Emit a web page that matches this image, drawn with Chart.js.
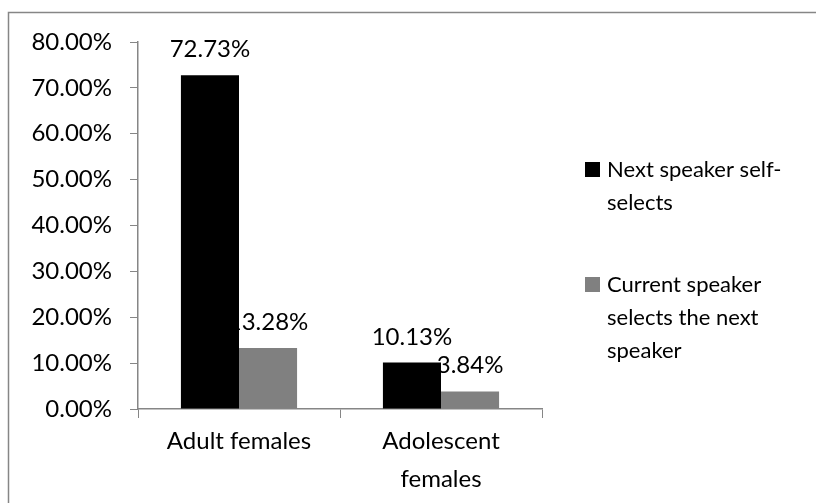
<!DOCTYPE html>
<html><head><meta charset="utf-8">
<script src="https://cdn.jsdelivr.net/npm/chart.js@4/dist/chart.umd.min.js"></script>
<style>html,body{margin:0;padding:0;background:#fff;}#wrap{width:816px;height:503px;position:relative;}</style>
</head><body><div id="wrap"><canvas id="c" width="816" height="503"></canvas></div>
<script>
const categories = ['Adult females', ['Adolescent', 'females']];
const seriesNames = ['Next speaker self-selects', 'Current speaker selects the next speaker'];
const legendLines = [['Next speaker self-', 'selects'], ['Current speaker', 'selects the next', 'speaker']];
const selfSelects = [72.73, 10.13];
const currentSelects = [13.28, 3.84];
const seriesColors = ['#000000', '#808080'];
const yTicks = [0, 10, 20, 30, 40, 50, 60, 70, 80];

const FONT = 'Lato, "Open Sans", sans-serif';
const FS = 24;
const LFS = 22;

const frame = {
  id: 'frame',
  beforeDraw(chart) {
    const ctx = chart.ctx;
    ctx.save();
    ctx.fillStyle = '#fff';
    ctx.fillRect(0, 0, chart.width, chart.height);
    ctx.strokeStyle = '#868686';
    ctx.lineWidth = 1.5;
    ctx.strokeRect(8.5, 12.5, 900, 600);
    ctx.restore();
  }
};

const valueLabels = {
  id: 'valueLabels',
  beforeDatasetsDraw(chart) {
    const ctx = chart.ctx;
    ctx.save();
    ctx.font = FS + 'px ' + FONT;
    ctx.fillStyle = '#000';
    ctx.textAlign = 'center';
    ctx.textBaseline = 'alphabetic';
    chart.data.datasets.forEach((ds, i) => {
      chart.getDatasetMeta(i).data.forEach((bar, j) => {
        ctx.fillText(ds.data[j].toFixed(2) + '%', bar.x, bar.y - 18);
      });
    });
    ctx.restore();
  }
};

const sideLegend = {
  id: 'sideLegend',
  afterDraw(chart) {
    const ctx = chart.ctx;
    ctx.save();
    ctx.font = LFS + 'px ' + FONT;
    ctx.textBaseline = 'alphabetic';
    ctx.textAlign = 'left';
    const starts = [177, 292];
    legendLines.forEach((lines, i) => {
      ctx.fillStyle = seriesColors[i];
      ctx.fillRect(585, starts[i] - 15, 15, 15);
      ctx.fillStyle = '#000';
      lines.forEach((t, k) => ctx.fillText(t, 607, starts[i] + k * 33));
    });
    ctx.restore();
  }
};

new Chart(document.getElementById('c'), {
  type: 'bar',
  data: {
    labels: categories,
    datasets: [
      { label: seriesNames[0], data: selfSelects, backgroundColor: seriesColors[0] },
      { label: seriesNames[1], data: currentSelects, backgroundColor: seriesColors[1] }
    ]
  },
  options: {
    responsive: false,
    animation: false,
    devicePixelRatio: 1,
    layout: { padding: { top: 42, right: 274, left: 0, bottom: 0 } },
    plugins: { legend: { display: false }, tooltip: { enabled: false } },
    datasets: { bar: { categoryPercentage: 0.575, barPercentage: 1.0 } },
    scales: {
      x: {
        grid: { drawOnChartArea: false, tickLength: 9, color: '#868686', offset: true },
        border: { color: '#868686', width: 1.5 },
        ticks: { color: '#000', font: { family: FONT, size: FS, lineHeight: 1.58 }, padding: 4, maxRotation: 0, autoSkip: false },
        afterFit(s) { s.height = 94; }
      },
      y: {
        min: 0, max: 80,
        afterBuildTicks(s) { s.ticks = yTicks.map(v => ({ value: v })); },
        grid: { drawOnChartArea: false, tickLength: 8, color: '#868686' },
        border: { color: '#868686', width: 1.5 },
        ticks: { color: '#000', font: { family: FONT, size: FS }, padding: 18, callback: v => v.toFixed(2) + '%' },
        afterFit(s) { s.width = 138; }
      }
    }
  },
  plugins: [frame, valueLabels, sideLegend]
});
</script></body></html>
